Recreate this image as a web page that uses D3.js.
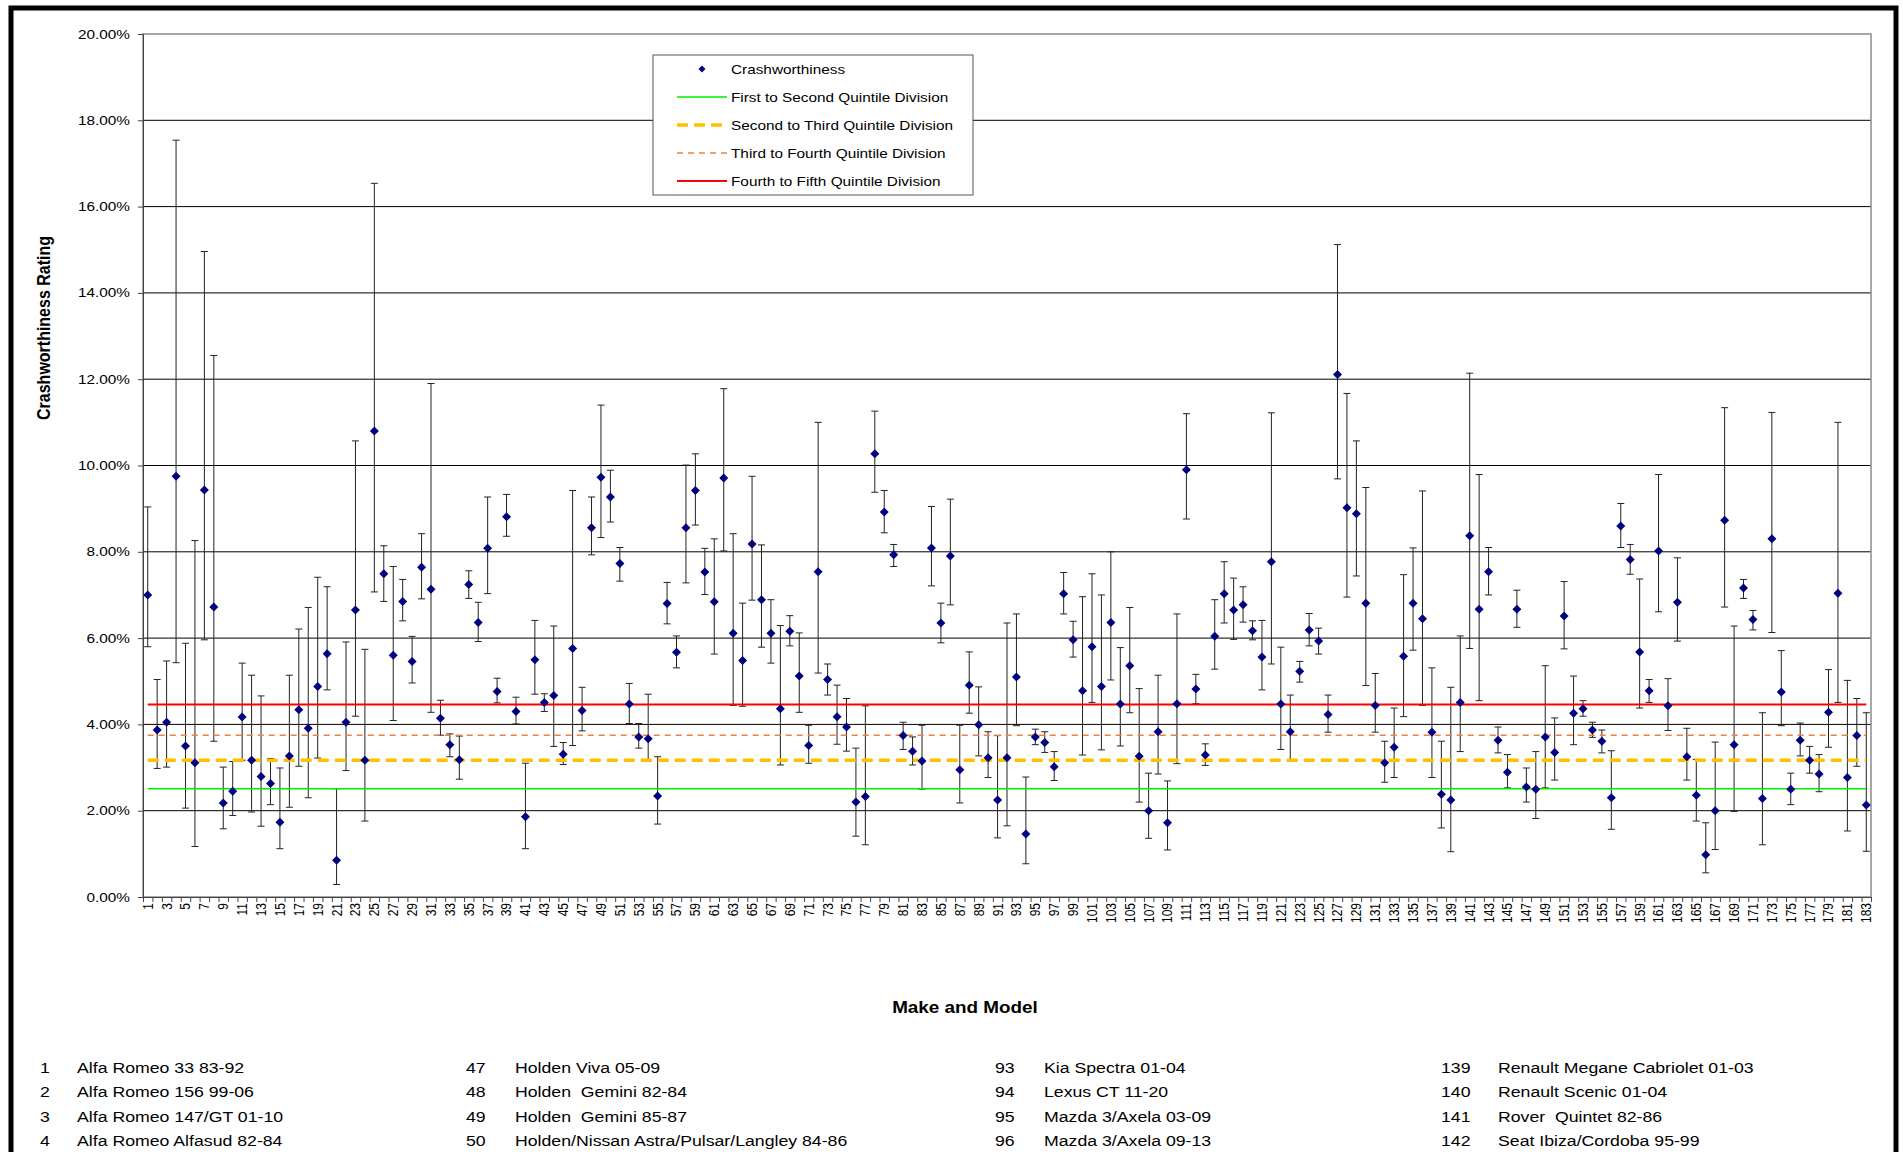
<!DOCTYPE html>
<html>
<head>
<meta charset="utf-8">
<script src="https://cdn.jsdelivr.net/npm/d3@7"></script>
<style>
body { margin: 0; background: #fff; }
svg text { font-family: "Liberation Sans", Arial, sans-serif; fill: #000; }
</style>
</head>
<body>
<div id="chart"></div>
<script>
// rating and its interval, in percent, one per make/model (1..183)
var categories = d3.range(1, 184);

var rating = [7.00,3.87,4.05,9.75,3.50,3.11,9.43,6.72,2.18,2.45,4.17,3.17,2.79,2.63,1.73,3.27,4.34,3.91,4.88,5.64,
0.85,4.05,6.65,3.17,10.80,7.49,5.60,6.85,5.46,7.64,7.13,4.14,3.53,3.18,7.24,6.36,8.08,4.76,8.81,4.30,
1.86,5.50,4.51,4.67,3.31,5.76,4.32,8.56,9.73,9.27,7.73,4.47,3.71,3.67,2.34,6.80,5.67,8.56,9.42,7.53,
6.84,9.71,6.11,5.48,8.18,6.89,6.11,4.36,6.16,5.12,3.51,7.54,5.04,4.18,3.94,2.20,2.33,10.27,8.92,7.93,
3.74,3.38,3.15,8.09,6.35,7.90,2.95,4.91,3.99,3.23,2.25,3.23,5.10,1.46,3.71,3.58,3.02,7.03,5.96,4.78,
5.80,4.88,6.36,4.47,5.36,3.26,2.00,3.83,1.72,4.48,9.90,4.82,3.29,6.04,7.03,6.65,6.77,6.17,5.56,7.77,
4.47,3.83,5.23,6.19,5.93,4.23,12.11,9.02,8.88,6.81,4.44,3.11,3.47,5.58,6.81,6.45,3.82,2.38,2.25,4.51,
8.37,6.67,7.54,3.63,2.89,6.67,2.55,2.50,3.71,3.35,6.51,4.26,4.36,3.87,3.61,2.30,8.60,7.82,5.68,4.78,
8.02,4.43,6.83,3.25,2.36,0.98,2.00,8.73,3.53,7.16,6.43,2.28,8.30,4.75,2.50,3.63,3.17,2.85,4.28,7.04,
2.77,3.74,2.13];

var upper = [9.04,5.04,5.47,17.54,5.88,8.26,14.96,12.55,3.01,3.14,5.42,5.14,4.66,3.21,2.99,5.14,6.21,6.71,7.41,7.19,
2.51,5.91,10.57,5.74,16.54,8.14,7.66,7.36,6.04,8.42,11.90,4.56,3.78,3.73,7.56,6.83,9.27,5.07,9.33,4.63,
3.10,6.41,4.71,6.28,3.58,9.42,4.86,9.27,11.40,9.89,8.10,4.95,4.02,4.70,3.25,7.29,6.05,10.01,10.27,8.08,
8.30,11.78,8.42,6.81,9.75,8.16,6.89,6.29,6.52,6.12,3.98,11.00,5.40,4.91,4.60,3.45,4.43,11.26,9.42,8.17,
4.05,3.71,3.98,9.05,6.81,9.22,3.98,5.68,4.87,3.83,3.74,6.35,6.56,2.78,3.89,3.83,3.37,7.52,6.39,6.96,
7.49,7.00,8.00,5.78,6.71,4.83,2.87,5.14,2.69,6.56,11.20,5.16,3.55,6.89,7.77,7.39,7.19,6.40,6.41,11.22,
5.79,4.68,5.46,6.57,6.23,4.68,15.12,11.67,10.57,9.49,5.18,3.61,4.38,7.47,8.09,9.41,5.31,3.61,4.86,6.05,
12.14,9.79,8.10,3.94,3.30,7.11,2.99,3.37,5.36,4.15,7.31,5.12,4.55,4.05,3.87,3.39,9.12,8.17,7.37,5.04,
9.79,5.06,7.86,3.91,3.19,1.72,3.59,11.34,6.28,7.36,6.64,4.27,11.23,5.71,2.87,4.03,3.49,3.30,5.27,11.00,
5.02,4.60,4.27];

var lower = [5.80,2.98,3.01,5.43,2.06,1.17,5.96,3.61,1.58,1.89,3.17,1.97,1.64,2.14,1.12,2.08,3.03,2.30,3.22,4.80,
0.29,2.93,4.19,1.76,7.07,6.85,4.09,6.40,4.96,6.91,4.28,3.75,3.25,2.73,6.92,5.92,7.03,4.50,8.36,4.01,
1.12,4.70,4.30,3.49,3.07,3.51,3.85,7.93,8.33,8.69,7.32,4.02,3.45,3.14,1.69,6.33,5.31,7.28,8.62,7.01,
5.63,8.02,4.44,4.42,6.88,5.79,5.42,3.06,5.82,4.28,3.10,5.19,4.68,3.54,3.38,1.41,1.21,9.38,8.44,7.66,
3.42,3.06,2.50,7.21,5.89,6.77,2.18,4.26,3.27,2.77,1.37,1.65,3.97,0.77,3.53,3.35,2.70,6.56,5.56,3.29,
4.51,3.41,5.03,3.50,4.27,2.20,1.36,2.85,1.09,3.09,8.76,4.48,3.05,5.28,6.35,5.97,6.37,5.96,4.80,5.40,
3.42,3.15,4.98,5.82,5.63,3.82,9.69,6.95,7.44,4.90,3.82,2.66,2.77,4.18,5.72,4.44,2.77,1.60,1.05,3.37,
5.76,4.55,7.00,3.34,2.53,6.25,2.20,1.82,2.53,2.71,5.75,3.53,4.19,3.70,3.34,1.57,8.10,7.48,4.38,4.51,
6.61,3.86,5.93,2.71,1.76,0.56,1.10,6.72,1.98,6.92,6.19,1.21,6.13,3.97,2.14,3.27,2.87,2.44,3.47,4.51,
1.53,3.03,1.06];

var quintileNames = ["First to Second Quintile Division", "Second to Third Quintile Division",
  "Third to Fourth Quintile Division", "Fourth to Fifth Quintile Division"];
var quintileValues = [2.51, 3.17, 3.75, 4.46];

var yTicks = d3.range(0, 20.001, 2);

var keyIds = [1, 2, 3, 4, 47, 48, 49, 50, 93, 94, 95, 96, 139, 140, 141, 142];
var keyNames = ["Alfa Romeo 33 83-92", "Alfa Romeo 156 99-06", "Alfa Romeo 147/GT 01-10", "Alfa Romeo Alfasud 82-84",
  "Holden Viva 05-09", "Holden  Gemini 82-84", "Holden  Gemini 85-87", "Holden/Nissan Astra/Pulsar/Langley 84-86",
  "Kia Spectra 01-04", "Lexus CT 11-20", "Mazda 3/Axela 03-09", "Mazda 3/Axela 09-13",
  "Renault Megane Cabriolet 01-03", "Renault Scenic 01-04", "Rover  Quintet 82-86", "Seat Ibiza/Cordoba 95-99"];

var width = 1903, height = 1152;
var plot = { left: 143, right: 1871, top: 34, bottom: 897 };
var sx = 1.18; // source picture is stretched sideways

var svg = d3.select("#chart").append("svg")
  .attr("width", width)
  .attr("height", height);

var x = d3.scaleLinear().domain([0.5, 183.5]).range([plot.left, plot.right]);
var y = d3.scaleLinear().domain([0, 20]).range([plot.bottom, plot.top]);

// gridlines
svg.append("g")
  .selectAll("line")
  .data(yTicks.filter(function(d) { return d > 0 && d < 20; }))
  .enter().append("line")
  .attr("x1", plot.left).attr("x2", plot.right)
  .attr("y1", function(d) { return y(d); })
  .attr("y2", function(d) { return y(d); })
  .attr("stroke", "#000")
  .attr("stroke-width", 1);

svg.append("rect")
  .attr("x", plot.left).attr("y", plot.top)
  .attr("width", plot.right - plot.left)
  .attr("height", plot.bottom - plot.top)
  .attr("fill", "none")
  .attr("stroke", "#8c8c8c")
  .attr("stroke-width", 1.5);

// axes
svg.append("g")
  .attr("transform", "translate(" + plot.left + ",0)")
  .call(d3.axisLeft(y).tickValues(yTicks).tickSize(5).tickFormat(""))
  .call(function(g) { g.selectAll("line,path").attr("stroke", "#444"); });

svg.append("g")
  .selectAll("text")
  .data(yTicks)
  .enter().append("text")
  .attr("transform", function(d) { return "translate(130," + y(d) + ") scale(" + sx + ",1)"; })
  .attr("dy", "0.35em")
  .attr("text-anchor", "end")
  .style("font-size", "13px")
  .text(function(d) { return d.toFixed(2) + "%"; });

svg.append("g")
  .attr("transform", "translate(0," + plot.bottom + ")")
  .call(d3.axisBottom(x).tickValues(d3.range(0.5, 184, 1)).tickSize(5).tickFormat(""))
  .call(function(g) { g.selectAll("line,path").attr("stroke", "#444"); });

svg.append("g")
  .selectAll("text")
  .data(categories.filter(function(d) { return d % 2 === 1; }))
  .enter().append("text")
  .attr("transform", function(d) { return "translate(" + x(d) + "," + (plot.bottom + 6) + ") scale(" + sx + ",1) rotate(-90)"; })
  .attr("dy", "0.35em")
  .attr("text-anchor", "end")
  .style("font-size", "12px")
  .text(function(d) { return d; });

// error bars
var bars = svg.append("g")
  .selectAll("g")
  .data(categories)
  .enter().append("g")
  .attr("stroke", "#222")
  .attr("stroke-width", 1);

bars.append("line")
  .attr("x1", function(d) { return x(d); })
  .attr("x2", function(d) { return x(d); })
  .attr("y1", function(d, i) { return y(upper[i]); })
  .attr("y2", function(d, i) { return y(lower[i]); });

bars.append("line")
  .attr("x1", function(d) { return x(d) - 3.5; })
  .attr("x2", function(d) { return x(d) + 3.5; })
  .attr("y1", function(d, i) { return y(upper[i]); })
  .attr("y2", function(d, i) { return y(upper[i]); });

bars.append("line")
  .attr("x1", function(d) { return x(d) - 3.5; })
  .attr("x2", function(d) { return x(d) + 3.5; })
  .attr("y1", function(d, i) { return y(lower[i]); })
  .attr("y2", function(d, i) { return y(lower[i]); });

// quintile division lines
var quintileStyle = [
  { stroke: "#00ee00", width: 1.5, dash: null },
  { stroke: "#ffc000", width: 3.5, dash: "11,6" },
  { stroke: "#ee8040", width: 1.4, dash: "6,5" },
  { stroke: "#ff0000", width: 2, dash: null }
];

svg.append("g")
  .selectAll("line")
  .data(quintileValues)
  .enter().append("line")
  .attr("x1", x(1)).attr("x2", x(183))
  .attr("y1", function(d) { return y(d); })
  .attr("y2", function(d) { return y(d); })
  .attr("stroke", function(d, i) { return quintileStyle[i].stroke; })
  .attr("stroke-width", function(d, i) { return quintileStyle[i].width; })
  .attr("stroke-dasharray", function(d, i) { return quintileStyle[i].dash; });

// markers
var diamond = "M0,-4.5L4.5,0L0,4.5L-4.5,0Z";
svg.append("g")
  .selectAll("path")
  .data(categories)
  .enter().append("path")
  .attr("d", diamond)
  .attr("transform", function(d, i) { return "translate(" + x(d) + "," + y(rating[i]) + ")"; })
  .attr("fill", "#000080");

// legend
var legend = svg.append("g").attr("transform", "translate(653,55)");
legend.append("rect")
  .attr("width", 320).attr("height", 140)
  .attr("fill", "#fff")
  .attr("stroke", "#555")
  .attr("stroke-width", 1);

legend.append("path")
  .attr("d", "M0,-3.5L3.5,0L0,3.5L-3.5,0Z")
  .attr("transform", "translate(49,14)")
  .attr("fill", "#000080");

legend.selectAll(".qline")
  .data(quintileValues)
  .enter().append("line")
  .attr("class", "qline")
  .attr("x1", 24).attr("x2", 74)
  .attr("y1", function(d, i) { return 42 + i * 28; })
  .attr("y2", function(d, i) { return 42 + i * 28; })
  .attr("stroke", function(d, i) { return quintileStyle[i].stroke; })
  .attr("stroke-width", function(d, i) { return quintileStyle[i].width; })
  .attr("stroke-dasharray", function(d, i) { return quintileStyle[i].dash; });

legend.selectAll(".ltext")
  .data(["Crashworthiness"].concat(quintileNames))
  .enter().append("text")
  .attr("class", "ltext")
  .attr("transform", function(d, i) { return "translate(78," + (14 + i * 28) + ") scale(" + sx + ",1)"; })
  .attr("dy", "0.35em")
  .style("font-size", "13px")
  .text(function(d) { return d; });

// axis titles
svg.append("text")
  .attr("transform", "translate(50,328) scale(" + sx + ",1) rotate(-90)")
  .attr("text-anchor", "middle")
  .style("font-size", "16px")
  .style("font-weight", "bold")
  .text("Crashworthiness Rating");

svg.append("text")
  .attr("transform", "translate(965,1013) scale(" + sx + ",1)")
  .attr("text-anchor", "middle")
  .style("font-size", "16px")
  .style("font-weight", "bold")
  .text("Make and Model");

// model key below the chart
var keyColX = [40, 466, 995, 1441];
var keyNameX = [77, 515, 1044, 1498];
var key = svg.append("g")
  .selectAll("g")
  .data(keyIds)
  .enter().append("g")
  .attr("transform", function(d, i) { return "translate(0," + (1073 + (i % 4) * 24.4) + ")"; });

key.append("text")
  .attr("transform", function(d, i) { return "translate(" + keyColX[Math.floor(i / 4)] + ",0) scale(" + sx + ",1)"; })
  .style("font-size", "15px")
  .text(function(d) { return d; });

key.append("text")
  .attr("transform", function(d, i) { return "translate(" + keyNameX[Math.floor(i / 4)] + ",0) scale(" + sx + ",1)"; })
  .style("font-size", "15px")
  .style("white-space", "pre")
  .text(function(d, i) { return keyNames[i]; });

// outer frame
svg.append("rect")
  .attr("x", 11).attr("y", 8)
  .attr("width", 1885).attr("height", 1200)
  .attr("fill", "none")
  .attr("stroke", "#000")
  .attr("stroke-width", 5);
</script>
</body>
</html>
